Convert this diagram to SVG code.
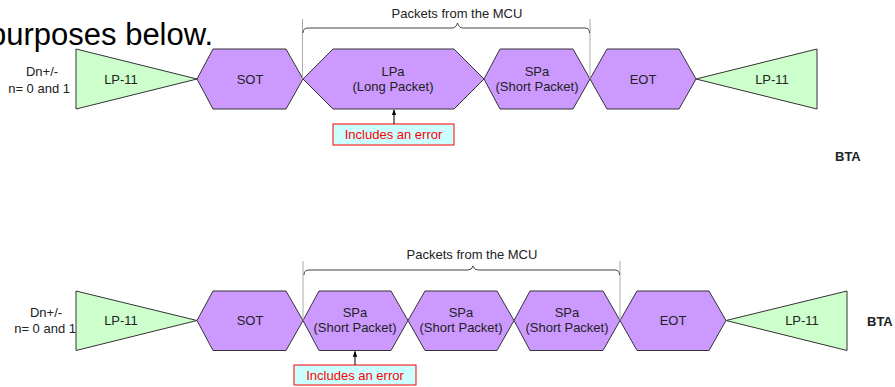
<svg xmlns="http://www.w3.org/2000/svg" width="895" height="387" viewBox="0 0 895 387">
<style>
text{font-family:"Liberation Sans",Arial,sans-serif;font-size:13px;fill:#222}
.c{text-anchor:middle}
.hex{fill:#CC99FF;stroke:#333;stroke-width:1}
.tri{fill:#CCFFCC;stroke:#333;stroke-width:1}
.err rect{fill:#CCFFFF;stroke:#FF0000;stroke-width:1}
.err text{fill:#FF0000;text-anchor:middle}
.vl{stroke:#aaa;stroke-width:1;fill:none}
.br{stroke:#444;stroke-width:1;fill:none}
.ar{stroke:#000;stroke-width:1;fill:none}
.b{font-weight:bold}
</style>
<defs>
<marker id="ah" viewBox="0 0 8 8" refX="7" refY="4" markerWidth="6" markerHeight="6" orient="auto">
<path d="M0,1 L8,4 L0,7 z" fill="#000"/>
</marker>
</defs>
<text x="-11" y="45" style="font-size:31px;fill:#000">purposes below.</text>

<!-- Row 1 -->
<g id="r1-label"><text class="c" x="42" y="76">Dn+/-</text><text x="70" y="92.5" text-anchor="end">n= 0 and 1</text></g>
<g id="r1-lp11a"><polygon class="tri" points="76,49 197,79 76,109"/><text class="c" x="121" y="83.5">LP-11</text></g>
<g id="r1-sot"><polygon class="hex" points="197,79 213,49 286,49 303,79 286,109 213,109"/><text class="c" x="250" y="83.5">SOT</text></g>
<g id="r1-lpa"><polygon class="hex" points="303,79 333,49 454,49 484,79 454,109 333,109"/><text class="c" x="393" y="76">LPa</text><text class="c" x="393" y="91">(Long Packet)</text></g>
<g id="r1-spa"><polygon class="hex" points="484,79 500,49 573,49 590,79 573,109 500,109"/><text class="c" x="537" y="76">SPa</text><text class="c" x="537" y="91">(Short Packet)</text></g>
<g id="r1-eot"><polygon class="hex" points="590,79 607,49 679,49 696,79 679,109 607,109"/><text class="c" x="643" y="83.5">EOT</text></g>
<g id="r1-lp11b"><polygon class="tri" points="817,49 696,79 817,109"/><text class="c" x="772" y="83.5">LP-11</text></g>
<g id="r1-bta"><text class="b" x="835" y="161">BTA</text></g>
<g id="r1-brace"><text class="c" x="457" y="18">Packets from the MCU</text></g>
<g id="r1-err" class="err"><rect x="333" y="124" width="121" height="21"/><text x="393.5" y="139">Includes an error</text></g>

<!-- Row 2 -->
<g id="r2-label"><text class="c" x="46" y="317">Dn+/-</text><text x="76" y="333" text-anchor="end">n= 0 and 1</text></g>
<g id="r2-lp11a"><polygon class="tri" points="76,291 197,320.5 76,350.5"/><text class="c" x="121" y="325">LP-11</text></g>
<g id="r2-sot"><polygon class="hex" points="197,320.5 213,291 286,291 303,320.5 286,350.5 213,350.5"/><text class="c" x="250" y="325">SOT</text></g>
<g id="r2-spa1"><polygon class="hex" points="303,320.5 319,291 391,291 408,320.5 391,350.5 319,350.5"/><text class="c" x="355" y="317">SPa</text><text class="c" x="355" y="331.5">(Short Packet)</text></g>
<g id="r2-spa2"><polygon class="hex" points="408,320.5 425,291 497,291 514,320.5 497,350.5 425,350.5"/><text class="c" x="461" y="317">SPa</text><text class="c" x="461" y="331.5">(Short Packet)</text></g>
<g id="r2-spa3"><polygon class="hex" points="514,320.5 530,291 603,291 620,320.5 603,350.5 530,350.5"/><text class="c" x="567" y="317">SPa</text><text class="c" x="567" y="331.5">(Short Packet)</text></g>
<g id="r2-eot"><polygon class="hex" points="620,320.5 637,291 709,291 726,320.5 709,350.5 637,350.5"/><text class="c" x="673" y="325">EOT</text></g>
<g id="r2-lp11b"><polygon class="tri" points="847,291 726,320.5 847,350.5"/><text class="c" x="802" y="325">LP-11</text></g>
<g id="r2-bta"><text class="b" x="867" y="326">BTA</text></g>
<g id="r2-brace"><text class="c" x="472" y="259">Packets from the MCU</text></g>
<g id="r2-err" class="err"><rect x="294" y="365" width="122" height="20"/><text x="355" y="380">Includes an error</text></g>

<g id="connectors">
<line class="vl" x1="302.5" y1="19" x2="302.5" y2="79"/>
<line class="vl" x1="590" y1="19" x2="590" y2="79"/>
<path class="br" d="M303,33 Q303,28 308,28 L452,28 Q456,28 457.5,23 Q459,28 463,28 L585,28 Q589.5,28 589.5,33"/>
<line class="ar" x1="394" y1="124" x2="394" y2="110" marker-end="url(#ah)"/>
<line class="vl" x1="303" y1="261" x2="303" y2="320"/>
<line class="vl" x1="620" y1="261" x2="620" y2="320"/>
<path class="br" d="M304,275 Q304,270 309,270 L468,270 Q472,270 473,266 Q474,270 478,270 L615,270 Q619.5,270 619.5,275"/>
<line class="ar" x1="355" y1="365" x2="355" y2="351.5" marker-end="url(#ah)"/>
</g>
</svg>
